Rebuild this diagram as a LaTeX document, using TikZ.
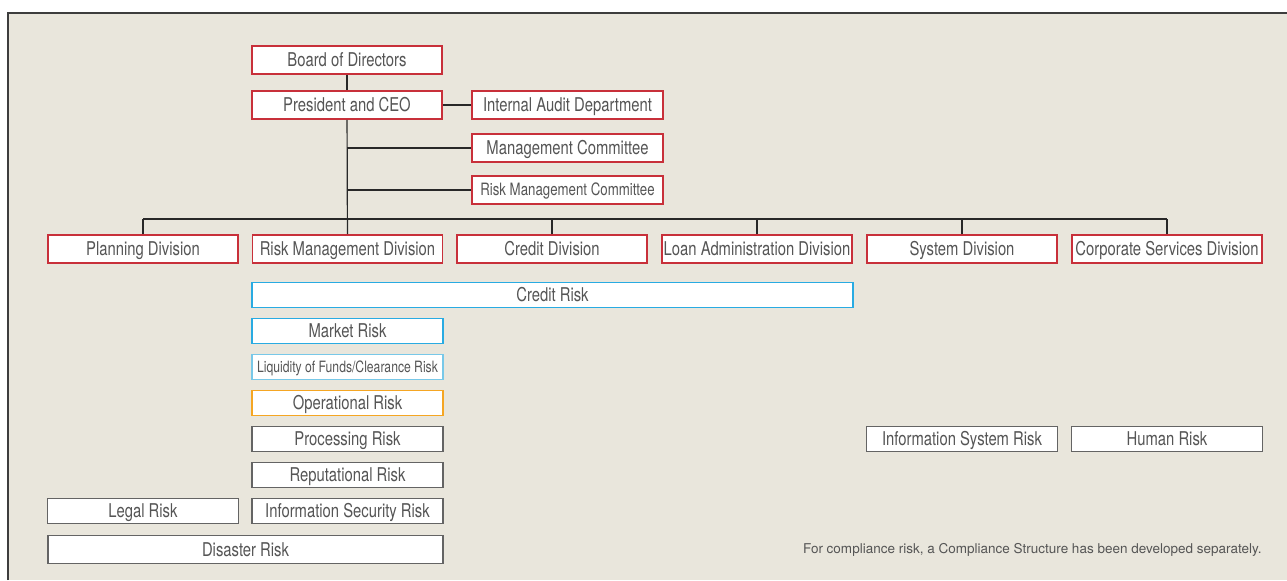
\documentclass[tikz,border=0pt]{standalone}
\usepackage{fontspec}
\usepackage{tikz}
\usetikzlibrary{positioning}
\newfontfamily\condfont{TeX Gyre Heros}[FakeStretch=0.78]
\newfontfamily\notefont{TeX Gyre Heros}
\definecolor{rmbeige}{RGB}{233,230,220}
\definecolor{rmred}{RGB}{200,48,58}
\definecolor{rmblue}{RGB}{41,171,226}
\definecolor{rmlightblue}{RGB}{120,200,232}
\definecolor{rmorange}{RGB}{245,166,35}
\definecolor{rmgray}{RGB}{100,100,100}
\definecolor{rmtext}{RGB}{85,85,85}
\definecolor{rmline}{RGB}{40,40,40}

\begin{document}
\begin{tikzpicture}[x=0.5pt, y=-0.5pt,
  box/.style={draw, fill=white, line width=0.8pt, inner sep=0pt, text=rmtext,
    font=\condfont\fontsize{9.5}{10}\selectfont, text height=7pt, text depth=0.4pt},
  redbox/.style={box, draw=rmred, minimum width=95pt, minimum height=14pt},
  riskbox/.style={box, draw=rmgray, minimum width=95.5pt, minimum height=12.5pt},
  link/.style={draw=rmline, line width=0.6pt}]
\useasboundingbox (0,0) rectangle (1287,580);
% Frame
\fill[rmbeige] (8,13) rectangle (1287,580);
\draw[rmline!90, line width=0.8pt] (8,580) -- (8,13) -- (1287,13);
% Top management
\node[redbox] (board) at (347,60) {Board of Directors};
\node[redbox] (ceo) at (347,105) {President and CEO};
\node[redbox, minimum width=95.5pt] (audit) at (567.5,105) {Internal Audit Department};
\node[redbox, minimum width=95.5pt] (mc) at (567.5,148) {Management Committee};
\node[redbox, minimum width=95.5pt, font=\condfont\fontsize{8.5}{9}\selectfont, text height=6.3pt] (rmc) at (567.5,190) {Risk Management Committee};
% Divisions
\node[redbox] (plan) at (143,249) {Planning Division};
\node[redbox] (rmd) at (347.5,249) {Risk Management Division};
\node[redbox] (credit) at (552,249) {Credit Division};
\node[redbox] (loan) at (757,249) {Loan Administration Division};
\node[redbox] (sys) at (962,249) {System Division};
\node[redbox] (corp) at (1167,249) {Corporate Services Division};
\coordinate (bus) at (347,219);
% Risk categories
\node[riskbox, draw=rmblue, minimum width=300.5pt] (crisk) at (552.5,295) {Credit Risk};
\node[riskbox, draw=rmblue] (mrisk) at (347.5,331) {Market Risk};
\node[riskbox, draw=rmlightblue, font=\condfont\fontsize{7.8}{8}\selectfont, text height=5.8pt] (lrisk) at (347.5,367) {Liquidity of Funds/Clearance Risk};
\node[riskbox, draw=rmorange] (orisk) at (347.5,403) {Operational Risk};
\node[riskbox] (prisk) at (347.5,439) {Processing Risk};
\node[riskbox] (reprisk) at (347.5,475) {Reputational Risk};
\node[riskbox] (legal) at (143,511) {Legal Risk};
\node[riskbox] (infosec) at (347.5,511) {Information Security Risk};
\node[riskbox, minimum width=197.5pt, minimum height=14pt] (disaster) at (245.5,549.5) {Disaster Risk};
\node[riskbox] (infosys) at (962,439) {Information System Risk};
\node[riskbox] (human) at (1167,439) {Human Risk};
% Note
\node[anchor=base east, inner sep=0pt, text=rmtext, font=\notefont\fontsize{6.75}{7}\selectfont] (note) at (1262,553)
  {For compliance risk, a Compliance Structure has been developed separately.};
% Connectors
\draw[link] (board) -- (ceo);
\draw[link] (ceo) -- (audit);
\draw[link] (ceo) -- (rmd);
\draw[link] (mc.west) -- (mc.west -| ceo.south);
\draw[link] (rmc.west) -- (rmc.west -| ceo.south);
\draw[link] (plan.north |- bus) -- (corp.north |- bus);
\foreach \d in {plan, credit, loan, sys, corp}
  \draw[link] (\d.north) -- (\d.north |- bus);
\end{tikzpicture}
\end{document}
